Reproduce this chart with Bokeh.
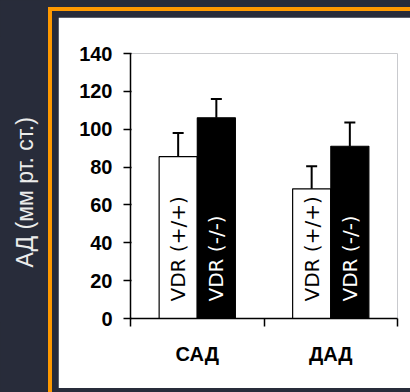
from math import pi

from bokeh.core.properties import value
from bokeh.embed import file_html
from bokeh.layouts import row
from bokeh.models import (ColumnDataSource, FixedTicker, Label, Range1d,
                          TeeHead, Whisker)
from bokeh.plotting import figure
from bokeh.resources import INLINE
from bokeh.transform import dodge

# Blood pressure by genotype (mean + SD)
categories = ["САД", "ДАД"]
genotypes = ["VDR (+/+)", "VDR (-/-)"]
wild_mean = [85.5, 68.5]
wild_sd = [12.5, 12.0]
knockout_mean = [106.0, 91.0]
knockout_sd = [10.0, 12.5]
y_ticks = [0, 20, 40, 60, 80, 100, 120, 140]
y_label = "АД (мм рт. ст.)"

DARK = "#282c3a"
ORANGE = "#ff9900"
BAR_W = 0.285
OFF = 0.143

n = len(categories)
pos = [i + 0.5 for i in range(n)]
src = ColumnDataSource(dict(
    pos=pos,
    wild=wild_mean,
    wild_top=[m + s for m, s in zip(wild_mean, wild_sd)],
    ko=knockout_mean,
    ko_top=[m + s for m, s in zip(knockout_mean, knockout_sd)],
    wild_text=[genotypes[0]] * n,
    ko_text=[genotypes[1]] * n,
))

p = figure(width=352, height=371,
           x_range=Range1d(0, n), y_range=Range1d(0, y_ticks[-1]),
           output_backend="svg", toolbar_location=None,
           min_border_left=72, min_border_right=13,
           min_border_top=36, min_border_bottom=70)
p.margin = (17, 0, 4, 10)
p.styles = {"box-shadow": f"0 0 0 6px {DARK}, 0 0 0 10px {ORANGE}"}
p.background_fill_color = "white"
p.border_fill_color = "white"
p.outline_line_color = None
p.xgrid.visible = False
p.ygrid.visible = False

x_wild = dodge("pos", -OFF, range=p.x_range)
x_ko = dodge("pos", OFF, range=p.x_range)

p.vbar(x=x_wild, top="wild", bottom=0, width=BAR_W, source=src,
       fill_color="white", line_color="black", line_width=1.2)
p.vbar(x=x_ko, top="ko", bottom=0, width=BAR_W, source=src,
       fill_color="black", line_color="black", line_width=1.2)

for base, lo, hi in ((x_wild, "wild", "wild_top"), (x_ko, "ko", "ko_top")):
    p.add_layout(Whisker(source=src, base=base, lower=lo, upper=hi,
                         lower_head=None,
                         upper_head=TeeHead(size=11, line_width=2, line_color="black"),
                         line_width=2, line_color="black", level="glyph"))

p.text(x=x_wild, y=9, text="wild_text", source=src, angle=pi / 2,
       text_align="left", text_baseline="middle",
       text_font=value("DejaVu Sans"), text_font_size="20px", text_color="black")
p.text(x=x_ko, y=9, text="ko_text", source=src, angle=pi / 2,
       text_align="left", text_baseline="middle",
       text_font=value("DejaVu Sans"), text_font_size="20px", text_color="white")

# y axis
ya = p.yaxis[0]
ya.ticker = FixedTicker(ticks=y_ticks, minor_ticks=[])
ya.axis_line_width = 1.5
ya.major_tick_line_width = 1.5
ya.major_tick_out = 7
ya.major_tick_in = 1
ya.minor_tick_out = 0
ya.minor_tick_in = 0
ya.major_label_standoff = 11
ya.major_label_text_font = "Liberation Sans"
ya.major_label_text_font_style = "bold"
ya.major_label_text_font_size = "20px"
ya.major_label_text_color = "black"

# x axis: labels at group centres, ticks at group boundaries
xa = p.xaxis[0]
xa.ticker = FixedTicker(ticks=pos, minor_ticks=list(range(n + 1)))
xa.major_label_overrides = {c: name for c, name in zip(pos, categories)}
xa.axis_line_width = 1.5
xa.major_tick_out = 0
xa.major_tick_in = 0
xa.minor_tick_out = 8
xa.minor_tick_in = 0
xa.minor_tick_line_width = 1.5
xa.major_label_standoff = 16
xa.major_label_text_font = "Liberation Sans"
xa.major_label_text_font_style = "bold"
xa.major_label_text_font_size = "20px"
xa.major_label_text_color = "black"

# dark side strip carrying the axis title
side = figure(width=48, height=392, x_range=Range1d(0, 1), y_range=Range1d(0, 1),
              output_backend="svg", toolbar_location=None,
              x_axis_type=None, y_axis_type=None, min_border=0)
side.background_fill_color = DARK
side.border_fill_color = DARK
side.outline_line_color = None
side.add_layout(Label(x=0.5, y=0.455, text=y_label, angle=pi / 2,
                      text_align="center", text_baseline="middle",
                      text_font="Liberation Sans", text_font_size="23px",
                      text_color="#ececec"))

layout = row(side, p, spacing=0, styles={"background-color": DARK})

open("out.html", "w").write(file_html(layout, INLINE))
